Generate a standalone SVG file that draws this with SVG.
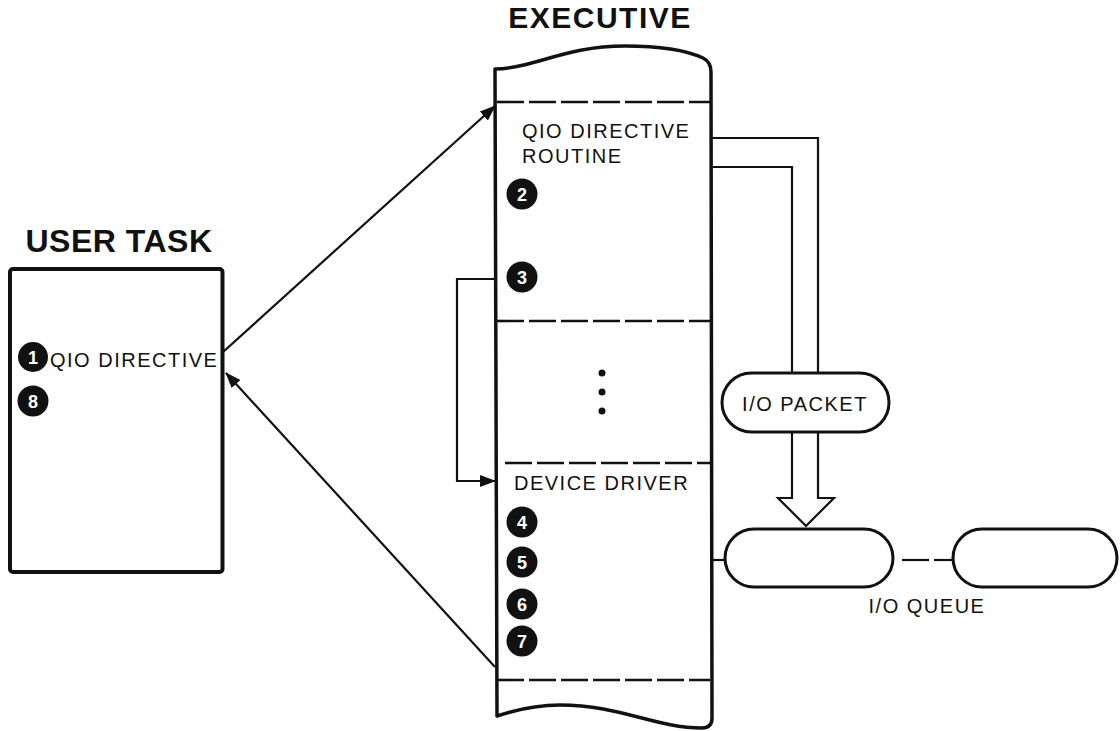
<svg xmlns="http://www.w3.org/2000/svg" width="1120" height="731" viewBox="0 0 1120 731">
<style>
.t{font-family:"Liberation Sans",Arial,sans-serif;font-size:20px;fill:#111;letter-spacing:1.5px}
.title{font-family:"Liberation Sans",Arial,sans-serif;font-weight:bold;fill:#111}
.num{font-family:"Liberation Sans",Arial,sans-serif;font-weight:bold;font-size:18px;fill:#fff;text-anchor:middle}
.dot{fill:#111}
.ln{fill:none;stroke:#111;stroke-width:2.2}
.dash{fill:none;stroke:#111;stroke-width:2.6;stroke-dasharray:27 5}
.pill{fill:#fff;stroke:#111;stroke-width:3}
</style>
<defs>
<marker id="ah" viewBox="0 0 16 12" refX="15" refY="6" markerWidth="16" markerHeight="12" markerUnits="userSpaceOnUse" orient="auto">
<path d="M0,0 L16,6 L0,12 Z" fill="#111"/>
</marker>
</defs>

<g id="user-task">
<text class="title" x="119" y="252" font-size="32" text-anchor="middle" letter-spacing="0.5">USER TASK</text>
<rect x="10" y="269" width="212.5" height="303" rx="3" fill="#fff" stroke="#111" stroke-width="4"/>
<circle class="dot" cx="33" cy="357" r="15"/>
<text class="num" x="33" y="363.5">1</text>
<text class="t" x="50" y="367">QIO DIRECTIVE</text>
<circle class="dot" cx="33" cy="401" r="15.5"/>
<text class="num" x="33" y="407.5">8</text>
</g>

<g id="executive">
<text class="title" x="600" y="28" font-size="30" text-anchor="middle" letter-spacing="1.5">EXECUTIVE</text>
<path d="M495,69 C535,68 565,46 625,46 C665,46 690,52 703,58 Q711,62 711,72 L712,718 Q712,728 702,728 C655,728 620,705 560,705 C535,705 515,710 497,716 Z" fill="#fff" stroke="#111" stroke-width="3.5" stroke-linejoin="round"/>
<line class="dash" x1="497" y1="102" x2="710" y2="102"/>
<line class="dash" x1="497" y1="321" x2="710" y2="321"/>
<line class="dash" x1="505" y1="463" x2="710" y2="463"/>
<line class="dash" x1="497" y1="680" x2="710" y2="680"/>
</g>

<g id="qio-directive-routine">
<text class="t" x="522" y="138">QIO DIRECTIVE</text>
<text class="t" x="522" y="163">ROUTINE</text>
<circle class="dot" cx="522" cy="194" r="15.5"/>
<text class="num" x="522" y="200.5">2</text>
<circle class="dot" cx="522" cy="277" r="15.5"/>
<text class="num" x="522" y="283.5">3</text>
</g>

<g id="ellipsis">
<circle class="dot" cx="602" cy="373" r="3.5"/>
<circle class="dot" cx="602" cy="392" r="3.5"/>
<circle class="dot" cx="602" cy="411" r="3.5"/>
</g>

<g id="device-driver">
<text class="t" x="514" y="490">DEVICE DRIVER</text>
<circle class="dot" cx="522" cy="522" r="15.5"/>
<text class="num" x="522" y="528.5">4</text>
<circle class="dot" cx="522" cy="562" r="15.5"/>
<text class="num" x="522" y="568.5">5</text>
<circle class="dot" cx="522" cy="604" r="15.5"/>
<text class="num" x="522" y="610.5">6</text>
<circle class="dot" cx="522" cy="641" r="15.5"/>
<text class="num" x="522" y="647.5">7</text>
</g>

<g id="connectors">
<line class="ln" x1="223" y1="352" x2="495" y2="106" marker-end="url(#ah)"/>
<line class="ln" x1="495" y1="667" x2="226" y2="373" marker-end="url(#ah)"/>
<polyline class="ln" points="495,279 457,279 457,481 495,481" marker-end="url(#ah)"/>
<path class="ln" d="M711,138 H818 V498 H834 L806,526 L778,498 H792 V167 H711" stroke-linejoin="miter"/>
<line class="ln" x1="712" y1="560" x2="725" y2="560"/>
<line class="ln" x1="902" y1="560" x2="929" y2="560"/>
<line class="ln" x1="934" y1="560" x2="953" y2="560"/>
</g>

<g id="io-packet">
<rect class="pill" x="722" y="373" width="167" height="59" rx="29.5"/>
<text class="t" x="805" y="411" text-anchor="middle" letter-spacing="1.2">I/O PACKET</text>
</g>

<g id="io-queue">
<rect class="pill" x="725" y="529" width="168" height="58" rx="29"/>
<rect class="pill" x="953" y="529" width="164" height="58" rx="29"/>
<text class="t" x="927" y="613" text-anchor="middle">I/O QUEUE</text>
</g>
</svg>
